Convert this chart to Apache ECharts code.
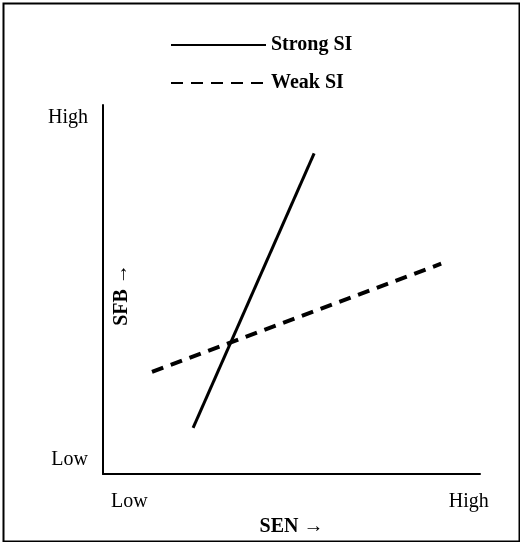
<!DOCTYPE html>
<html><head><meta charset="utf-8">
<script src="https://cdn.jsdelivr.net/npm/echarts@6/dist/echarts.min.js"></script>
<style>body{margin:0}#c{width:520px;height:542px}</style></head>
<body><div id="c"></div>
<script>
const seriesNames = ['Strong SI', 'Weak SI'];
const strongSI = [[23.9, 12.5], [56, 86.9]];
const weakSI = [[13, 27.7], [89.7, 57]];
const xTickValues = [7, 97];
const yTickValues = [4, 96.5];
const tickLabels = ['Low', 'High'];
const xName = 'SEN \u2192', yName = 'SFB \u2192';
const F = 'Liberation Serif';
const chart = echarts.init(document.getElementById('c'));
const fmt = v => tickLabels[v < 50 ? 0 : 1];
chart.setOption({
  animation: false,
  backgroundColor: '#fff',
  graphic: [
    {type: 'rect', left: 1, top: 1, shape: {width: 516, height: 538}, style: {fill: 'none', stroke: '#000', lineWidth: 2}},
    {type: 'text', x: 122, y: 295, rotation: Math.PI / 2, style: {text: yName, fill: '#000', font: 'bold 20px "Liberation Serif"', align: 'center', verticalAlign: 'middle'}}
  ],
  legend: {orient: 'vertical', left: 165, top: 30, itemWidth: 95, itemHeight: 14, itemGap: 18,
    itemStyle: {opacity: 0},
    textStyle: {fontFamily: F, fontWeight: 'bold', fontSize: 20, color: '#000'}, data: seriesNames},
  grid: {left: 103, right: 40, top: 105, bottom: 62},
  xAxis: {type: 'value', min: 0, max: 100, name: xName, nameLocation: 'middle', nameGap: 12,
    nameTextStyle: {fontFamily: F, fontWeight: 'bold', fontSize: 20, color: '#000'},
    axisLine: {lineStyle: {color: '#000', width: 2}}, axisTick: {show: false}, splitLine: {show: false},
    axisLabel: {customValues: xTickValues, formatter: fmt, margin: 18, fontFamily: F, fontSize: 20, color: '#000'}},
  yAxis: {type: 'value', min: 0, max: 100,
    axisLine: {show: true, lineStyle: {color: '#000', width: 2}}, axisTick: {show: false}, splitLine: {show: false},
    axisLabel: {customValues: yTickValues, formatter: fmt, margin: 15, fontFamily: F, fontSize: 20, color: '#000'}},
  series: [
    {name: seriesNames[0], type: 'line', data: strongSI, symbol: 'none', lineStyle: {color: '#000', width: 3}, itemStyle: {color: '#000'}},
    {name: seriesNames[1], type: 'line', data: weakSI, symbol: 'none', lineStyle: {color: '#000', width: 4, type: [12, 8]}, itemStyle: {color: '#000'}}
  ]
});
</script></body></html>
